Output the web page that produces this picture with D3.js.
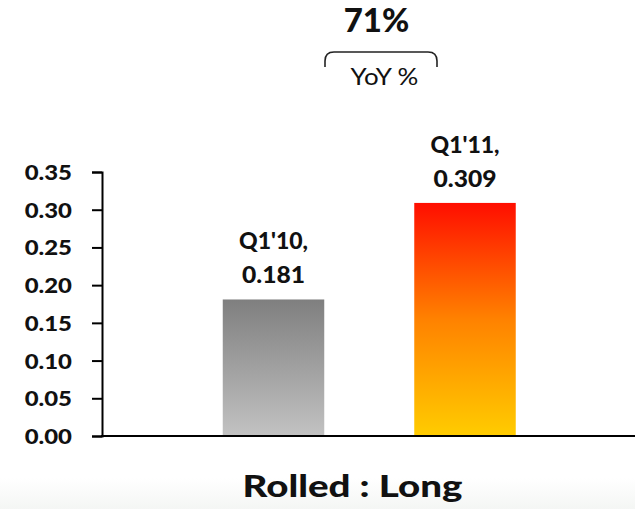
<!DOCTYPE html>
<html>
<head>
<meta charset="utf-8">
<script src="https://cdn.jsdelivr.net/npm/d3@7/dist/d3.min.js"></script>
<style>
  html, body { margin: 0; padding: 0; background: #fff; }
  svg { display: block; }
  text { font-family: Lato, "Open Sans", sans-serif; fill: #111; }
</style>
</head>
<body>
<script>
// Quarterly figures
const categories = ["Q1'10", "Q1'11"];
const values = [0.181, 0.309];
const yTicks = [0, 0.05, 0.10, 0.15, 0.20, 0.25, 0.30, 0.35];
const chartTitle = "Rolled : Long";
const growthCaption = "YoY %";

const width = 635, height = 509;
const svg = d3.select("body").append("svg")
  .attr("width", width).attr("height", height);

const defs = svg.append("defs");

// faint shade along the bottom edge
const shade = defs.append("linearGradient").attr("id", "shade")
  .attr("x1", 0).attr("y1", 0).attr("x2", 0).attr("y2", 1);
shade.append("stop").attr("offset", 0).attr("stop-color", "#ffffff");
shade.append("stop").attr("offset", 1).attr("stop-color", "#f4f6f4");
svg.append("rect").attr("x", 0).attr("y", 478).attr("width", width).attr("height", 31)
  .attr("fill", "url(#shade)");

// bar fills: grey for the earlier quarter, red-to-yellow for the later one
const gGrey = defs.append("linearGradient").attr("id", "barGrey")
  .attr("x1", 0).attr("y1", 0).attr("x2", 0).attr("y2", 1);
gGrey.append("stop").attr("offset", 0).attr("stop-color", "#7f7f7f");
gGrey.append("stop").attr("offset", 1).attr("stop-color", "#c2c2c2");
const gHot = defs.append("linearGradient").attr("id", "barHot")
  .attr("x1", 0).attr("y1", 0).attr("x2", 0).attr("y2", 1);
gHot.append("stop").attr("offset", 0).attr("stop-color", "#ff0e00");
gHot.append("stop").attr("offset", 0.5).attr("stop-color", "#ff8200");
gHot.append("stop").attr("offset", 1).attr("stop-color", "#ffcc00");
const fills = ["url(#barGrey)", "url(#barHot)"];

const axisX = 102, baseY = 436;
const y = d3.scaleLinear().domain([0, 0.35]).range([baseY, 172]);
const x = d3.scaleBand().domain(categories)
  .range([132.75, 605.75]).padding(0.47);

// widen a text run horizontally by a factor
function stretch(sel, k) {
  sel.each(function () {
    const w = this.getComputedTextLength();
    d3.select(this).attr("textLength", w * k).attr("lengthAdjust", "spacingAndGlyphs");
  });
}

// bars
svg.selectAll("rect.bar").data(categories).enter().append("rect")
  .attr("class", "bar")
  .attr("x", d => x(d))
  .attr("width", x.bandwidth())
  .attr("y", (d, i) => y(values[i]))
  .attr("height", (d, i) => baseY - y(values[i]))
  .attr("fill", (d, i) => fills[i]);

// value labels: category name on one line, value beneath
const lab = svg.selectAll("g.lab").data(categories).enter().append("g")
  .attr("class", "lab")
  .attr("transform", (d, i) => `translate(${x(d) + x.bandwidth() / 2},${y(values[i])})`);
lab.append("text").attr("text-anchor", "middle").attr("y", -50)
  .style("font-weight", 900).style("font-size", "23px")
  .text(d => d + ",");
lab.append("text").attr("text-anchor", "middle").attr("y", -16)
  .style("font-weight", 900).style("font-size", "23px")
  .text((d, i) => d3.format(".3f")(values[i]))
  .call(stretch, 1.07);

// y axis
const yAxis = d3.axisLeft(y).tickValues(yTicks)
  .tickFormat(d3.format(".2f")).tickSize(10).tickSizeOuter(10).tickPadding(20);
const ga = svg.append("g").attr("transform", `translate(${axisX},0)`).call(yAxis);
ga.select(".domain").attr("stroke", "#000").attr("stroke-width", 2);
ga.selectAll(".tick line").attr("stroke", "#000").attr("stroke-width", 2);
ga.selectAll(".tick text").attr("fill", "#111").attr("dy", "0.36em")
  .style("font-family", "Lato, sans-serif").style("font-weight", 900).style("font-size", "21px")
  .call(stretch, 1.14);

// baseline running to the right edge
svg.append("line").attr("x1", axisX - 1).attr("x2", width)
  .attr("y1", baseY).attr("y2", baseY)
  .attr("stroke", "#000").attr("stroke-width", 2);

// category axis title
svg.append("text").attr("x", 352.5).attr("y", 497).attr("text-anchor", "middle")
  .style("font-weight", 900).style("font-size", "31px").text(chartTitle)
  .call(stretch, 1.24);

// year-over-year growth callout
const growth = values[1] / values[0] - 1;
svg.append("text").attr("x", 376.5).attr("y", 32).attr("text-anchor", "middle")
  .style("font-weight", 900).style("font-size", "33px")
  .text(d3.format(".0%")(growth));
svg.append("path")
  .attr("d", "M325,67 V61 Q325,52 334,52 H428 Q437,52 437,61 V67")
  .attr("fill", "none").attr("stroke", "#222").attr("stroke-width", 1.6);
svg.append("text").attr("x", 384.5).attr("y", 85).attr("text-anchor", "middle")
  .style("font-size", "24px").text(growthCaption)
  .call(stretch, 1.08);
</script>
</body>
</html>
